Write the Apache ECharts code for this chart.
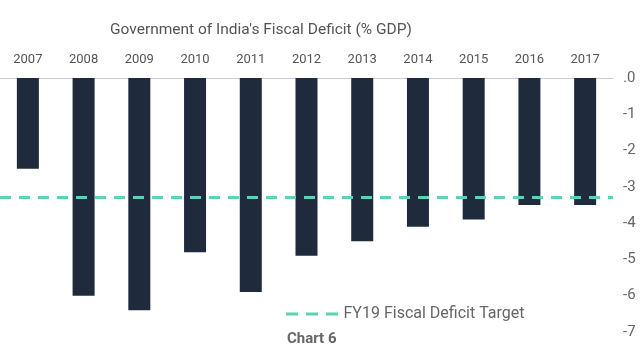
<!DOCTYPE html>
<html>
<head>
<meta charset="utf-8">
<script src="https://cdn.jsdelivr.net/npm/echarts@6/dist/echarts.min.js"></script>
<style>html,body{margin:0;padding:0;background:#fff;}</style>
</head>
<body>
<div id="main" style="width:640px;height:350px;"></div>
<script type="text/javascript">
	// 年份（类目轴）
	var years = ['2007', '2008', '2009', '2010', '2011', '2012', '2013', '2014', '2015', '2016', '2017'];
	// 财政赤字 % GDP
	var deficit = [-2.5, -6.0, -6.4, -4.8, -5.9, -4.9, -4.5, -4.1, -3.9, -3.5, -3.5];
	// FY19 目标
	var target = -3.3;
	// y 轴刻度
	var yTicks = [0, -1, -2, -3, -4, -5, -6, -7];

	var gridRight = 27;
	var myChart = echarts.init(document.getElementById('main'));
	var option = {
		title: [
			{
				text: "Government of India's Fiscal Deficit (% GDP)",
				left: 105, top: 17,
				textStyle: {fontSize: 15.5, fontWeight: 'normal', color: '#555', fontFamily: 'Roboto'}
			},
			{
				text: 'Chart 6',
				left: 282, top: 327,
				textStyle: {fontSize: 15, fontWeight: 'bold', color: '#666', fontFamily: 'Roboto'}
			}
		],
		legend: {
			left: 281, top: 301,
			itemWidth: 53, itemHeight: 3, itemGap: 10,
			textStyle: {fontSize: 16, color: '#666', fontFamily: 'Roboto'},
			data: [{
				name: 'FY19 Fiscal Deficit Target',
				icon: 'path://M0 0H12V3H0Z M20 0H32V3H20Z M40 0H52V3H40Z'
			}]
		},
		grid: {left: -16, right: gridRight, top: 78, bottom: 18},
		xAxis: {
			type: 'category',
			position: 'top',
			data: years,
			axisLine: {lineStyle: {color: '#ccc'}},
			axisTick: {show: false},
			axisLabel: {color: '#555', fontSize: 13, margin: 12, fontFamily: 'Roboto'}
		},
		yAxis: {
			type: 'value',
			position: 'right',
			min: -7, max: 0, interval: 1,
			splitLine: {show: false},
			axisLine: {show: false},
			axisTick: {show: false},
			axisLabel: {show: false}
		},
		series: [
			{
				type: 'bar',
				name: 'Fiscal Deficit',
				data: deficit,
				barWidth: 22,
				itemStyle: {color: '#1f2a3d'},
				z: 2
			},
			{
				type: 'line',
				name: 'FY19 Fiscal Deficit Target',
				data: [],
				symbol: 'none',
				lineStyle: {color: '#5dd3b3', width: 3, type: [11, 8]},
				itemStyle: {color: '#5dd3b3'},
				markLine: {
					silent: true,
					symbol: 'none',
					label: {show: false},
					lineStyle: {color: '#5dd3b3', width: 3, type: [11, 8]},
					data: [{yAxis: target}]
				},
				z: 3
			}
		]
	};
	myChart.setOption(option);

	// y 轴刻度文字：位置由 y 轴的比例尺换算
	var labelX = myChart.getWidth() - gridRight + 10;
	myChart.setOption({
		graphic: yTicks.map(function (v) {
			return {
				type: 'text',
				x: labelX,
				y: myChart.convertToPixel({yAxisIndex: 0}, v),
				style: {
					text: v === 0 ? '.0' : String(v),
					fill: '#666',
					fontSize: 15,
					fontFamily: 'Roboto',
					verticalAlign: 'middle',
					align: 'left'
				}
			};
		})
	});
</script>
</body>
</html>
